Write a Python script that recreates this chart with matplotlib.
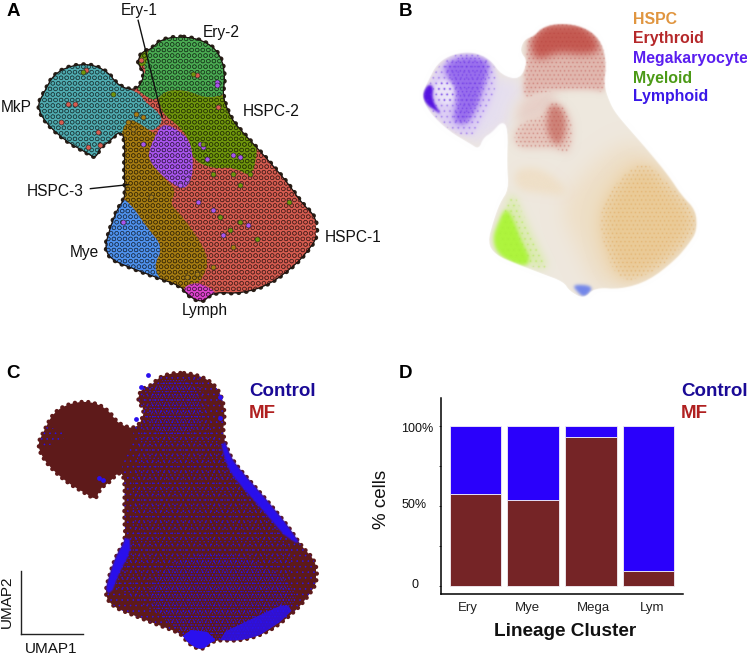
import matplotlib
matplotlib.use("Agg")
import numpy as np
import matplotlib.pyplot as plt
from matplotlib.patches import Polygon, PathPatch
from matplotlib.path import Path
from matplotlib.colors import to_rgb

plt.rcParams['font.family'] = ['Liberation Sans', 'DejaVu Sans']
plt.rcParams['hatch.linewidth'] = 0.4

W, H = 747, 662

# ---------- UMAP region outlines ----------
outline = [(530,108),(590,114),(640,138),(668,180),(675,235),(668,285),(685,335),(705,370),(755,425),(805,480),
           (865,550),(905,608),(948,650),(952,710),(925,750),(885,795),(805,855),(720,880),(640,875),(607,908),
           (563,885),(545,858),(480,835),(400,805),(338,780),(314,745),(332,680),(352,628),(378,590),(373,520),
           (376,412),(358,392),(328,425),(302,440),(288,474),(262,458),(198,422),(138,368),(112,318),(132,278),
           (162,222),(213,196),(272,191),(323,213),(357,258),(412,272),(437,218),(412,190),(425,155),(455,146),(480,120)]
mkp = [(90,318),(150,180),(270,170),(340,210),(357,258),(415,275),(440,310),(475,335),(490,365),
       (455,395),(420,370),(385,355),(378,410),(355,395),(325,425),(300,440),(285,490),(265,480),(180,440),(110,380)]
ery2 = [(530,90),(610,90),(690,180),(690,280),(620,295),(560,270),(500,270),(470,300),(440,290),
        (405,260),(440,215),(430,190),(455,130),(480,100)]
hspc2 = [(500,270),(560,270),(620,295),(690,280),(700,335),(720,370),(770,425),(770,470),(755,530),(700,500),(640,505),
         (580,480),(570,420),(540,380),(490,340),(480,310),(470,300)]
megap = [(490,370),(530,385),(570,420),(580,480),(575,540),(550,570),(490,530),(445,480),(450,440),(470,400)]
hspc3 = [(360,410),(385,355),(420,370),(455,395),(470,400),(450,440),(445,480),(490,530),(530,570),(510,610),(540,640),
         (600,720),(630,790),(590,860),(550,870),(480,850),(460,800),(490,740),(440,680),(400,620),(365,590),(360,520)]
mye = [(365,590),(400,620),(440,680),(490,740),(460,800),(490,850),(400,830),(320,800),(295,745),(320,680),(340,620)]
lymph = [(550,860),(590,845),(635,865),(650,885),(605,925),(555,895)]
ery1 = [(405,185),(430,150),(445,150),(440,190),(425,200)]

a_regions = [(mkp,'#4fabb0'),(ery2,'#4aab52'),(hspc2,'#6f960c'),(megap,'#a955ee'),(hspc3,'#a67c12'),
             (mye,'#4f92ee'),(lymph,'#dc42cc'),(ery1,'#6f960c')]
hspc1_colour = '#d65c50'

red_x = [258,205,225,185,295,300,265,590,425,655]
red_y = [210,310,310,365,395,435,440,225,180,320]
purple_x = [650,650,745,670,640,595,620,700,720,540,560,430,370,600,610]
purple_y = [245,255,675,705,630,605,475,465,470,555,535,430,665,430,440]
olive_x = [868,720,770,690,720,340,250,580,640,700,750,610,660]
olive_y = [605,555,715,690,665,280,215,220,520,520,520,430,650]
brown_x = [410,385,400,430,455,560,590,640,700]
brown_y = [340,365,385,350,590,830,820,800,740]

# panel B layers: polygon, colour
b_lilac = [(260,290),(350,260),(415,275),(420,320),(380,340),(378,410),(320,430),(285,470),(240,440),(270,380)]
b_orange_lt = [(530,640),(620,530),(730,450),(800,470),(860,540),(905,605),(950,650),(955,710),(925,750),(885,795),(805,855),
               (720,880),(640,875),(590,760)]
b_orange = [(650,650),(730,540),(800,510),(860,570),(945,655),(950,705),(880,785),(800,840),(720,860),(670,770)]
b_hspc3_tint = [(395,530),(470,525),(540,570),(560,610),(470,600),(400,590)]
b_red_top = [(530,100),(590,105),(645,135),(675,185),(680,240),(670,310),(640,300),(540,300),(470,310),(420,330),(430,215),(440,140),(480,115)]
b_red_dark = [(530,100),(590,108),(640,140),(660,190),(600,200),(530,190),(460,220),(440,160),(480,120)]
b_red_low = [(505,335),(545,345),(575,400),(565,490),(520,470),(470,470),(400,470),(395,420),(430,390),(480,380)]
b_red_core = [(505,340),(545,355),(555,420),(530,470),(495,430),(495,380)]
b_red_mid = [(420,320),(500,300),(530,310),(500,370),(440,390),(395,400)]
b_purple_lt = [(170,225),(215,195),(270,190),(325,215),(345,255),(330,330),(290,400),(265,440),(200,420),(140,365),(115,318),(135,280)]
b_purple = [(180,230),(225,205),(290,205),(325,225),(305,290),(280,360),(250,405),(205,395),(225,320),(190,260)]
b_white = [(175,270),(215,285),(205,350),(165,335),(150,290)]
b_purple_dark = [(115,318),(132,285),(150,290),(145,330),(175,375),(155,360),(130,345)]
b_green_lt = [(345,720),(370,640),(390,590),(430,680),(470,760),(505,825),(430,810),(370,790)]
b_green = [(330,730),(345,690),(370,640),(395,680),(420,745),(445,790),(430,815),(375,798),(340,770)]
b_blue = [(570,865),(640,870),(610,905),(590,890)]

# panel C layers
c_body = [(425,130),(530,90),(660,130),(690,330),(960,650),(960,720),(800,870),(610,920),(300,790),(370,590),(360,400),(405,270)]
c_mid = [(430,150),(600,120),(640,280),(760,460),(880,620),(860,770),(720,870),(560,860),(340,720),(395,590),(400,420),(420,290)]
c_bottom = [(420,760),(520,640),(700,620),(860,700),(905,770),(720,885),(610,905)]
c_top = [(450,125),(590,125),(610,280),(450,300)]
c_left = [(115,300),(140,265),(200,275),(190,300),(130,325)]
c_edge_band = [(660,300),(720,330),(790,400),(925,590),(875,600),(780,495),(710,420),(680,375)]
c_edge_lymph = [(550,845),(645,855),(645,930),(535,930)]
c_edge_left = [(310,720),(345,610),(390,575),(392,625),(360,680),(332,750)]
c_edge_bot = [(640,868),(790,800),(860,770),(880,800),(720,900)]
c_blue_x = [297,310,410,660,660,445,425]
c_blue_y = [410,418,242,180,240,115,150]

# panel D
categories = ['Ery', 'Mye', 'Mega', 'Lym']
mf_pct = [57.5, 53.8, 93.3, 9.2]
control_pct = [42.5, 46.2, 6.7, 90.8]
tick_label_x = [-0.136, 0.893, 2.043, 3.06]
minor_y = [0, 25, 50, 75, 100]

b_legend = [('HSPC','#e0953f'),('Erythroid','#b5282a'),('Megakaryocyte','#5a1ef0'),('Myeloid','#4c9a16'),('Lymphoid','#3a18e8')]

# ---------------------------------------------------------------
fig = plt.figure(figsize=(W/100, H/100), dpi=100, facecolor='white')

def T(x, y, s, **kw):
    kw.setdefault('ha', 'center'); kw.setdefault('va', 'center'); kw.setdefault('color', '#111111')
    fig.text(x/W, 1-y/H, s, **kw)

def umap_ax(x0, x1, y0, y1):
    ax = fig.add_axes([x0/W, 1-y1/H, (x1-x0)/W, (y1-y0)/H])
    ax.set_xlim(115, 948); ax.set_ylim(905, 110); ax.axis('off')
    return ax

def chaikin(pts, n=2):
    a = np.array(pts, float)
    for _ in range(n):
        b = np.roll(a, -1, axis=0)
        a = np.stack([0.75*a+0.25*b, 0.25*a+0.75*b], axis=1).reshape(-1, 2)
    return a

def blur(sigma):
    r = int(3*sigma)+1
    k = np.exp(-0.5*(np.arange(-r, r+1)/sigma)**2); k /= k.sum()
    def conv(m):
        m = np.apply_along_axis(lambda v: np.convolve(v, k, mode='same'), 0, m)
        return np.apply_along_axis(lambda v: np.convolve(v, k, mode='same'), 1, m)
    def f(im, dpi):
        im = np.pad(im, ((r, r), (r, r), (0, 0)))
        a = conv(im[..., 3])
        out = np.zeros_like(im)
        for c in range(3):
            out[..., c] = conv(im[..., c]*im[..., 3])/np.maximum(a, 1e-4)
        out[..., 3] = a
        return np.clip(out, 0, 1), -r, -r
    return f

def poly(ax, pts, fc, hatch=None, ec='none', lw=0, z=2, clip=None, sigma=None, smooth=0, alpha=None):
    v = chaikin(pts, smooth) if smooth else pts
    p = Polygon(v, closed=True, facecolor=fc, edgecolor=ec, hatch=hatch, linewidth=lw, zorder=z, alpha=alpha)
    ax.add_patch(p)
    if clip is not None:
        p.set_clip_path(clip)
    if sigma:
        p.set_agg_filter(blur(sigma))
    return p

def dark(c, f=0.45):
    return tuple(x*f for x in to_rgb(c))

smooth_out = chaikin(outline, 2)
ox, oy = np.append(smooth_out[:, 0], smooth_out[0, 0]), np.append(smooth_out[:, 1], smooth_out[0, 1])

# ---- A ----
axA = umap_ax(38, 316, 37, 302)
axA.plot(ox, oy, color='#2a2018', lw=3.6, ls=(0, (0.01, 1.5)), dash_capstyle='round', zorder=1, clip_on=False)
clipA = poly(axA, smooth_out, hspc1_colour, hatch='OOO', ec=dark(hspc1_colour), z=2)
for i, (pts, c) in enumerate(a_regions):
    poly(axA, pts, c, hatch='OOO', ec=dark(c), z=3+i*0.01, clip=clipA, smooth=2)
axA.plot(ox, oy, color='#1c1410', lw=0.9, zorder=4)
axA.scatter(red_x, red_y, s=13, c=hspc1_colour, edgecolors='#222', linewidths=0.4, zorder=5)
axA.scatter(purple_x, purple_y, s=13, c='#a955ee', edgecolors='#222', linewidths=0.4, zorder=5)
axA.scatter(olive_x, olive_y, s=13, c='#6f960c', edgecolors='#222', linewidths=0.4, zorder=5)
axA.scatter(brown_x, brown_y, s=13, c='#a67c12', edgecolors='#222', linewidths=0.4, zorder=5)
axA.plot([415,487],[60,350], color='#111', lw=1.0, zorder=6, clip_on=False)
axA.plot([272,385],[565,553], color='#111', lw=1.0, zorder=6, clip_on=False)

# ---- B ----
axB = umap_ax(422, 696, 24, 298)
poly(axB, smooth_out, '#eee8de', z=1)
soft = [(b_lilac,'#e6dff0',7),(b_orange_lt,'#efdfc6',10),(b_orange,'#ebcb98',8),(b_hspc3_tint,'#f0e0c8',4),
        (b_red_top,'#e2b8b0',3),(b_red_dark,'#c65a52',4),(b_red_mid,'#e8d0c8',5),(b_red_low,'#e6c6bc',4),
        (b_red_core,'#cf8278',3),(b_purple_lt,'#dccdf6',3),(b_purple,'#9a70ee',3),(b_white,'#ece4fa',2),
        (b_purple_dark,'#5512e0',1.2),(b_green_lt,'#dcecb0',4),(b_green,'#aef53e',2),(b_blue,'#7387ea',1.5)]
for i, (pts, c, s) in enumerate(soft):
    poly(axB, pts, c, z=2+i*0.01, sigma=s, smooth=2)
speck = [(b_orange,'#d9963f',4),(b_red_top,'#b33a36',4),(b_red_low,'#b5403a',4),(b_purple,'#4f0fe0',4),(b_purple_lt,'#6a35e8',3),
         (b_white,'#5a1ee6',3),(b_green_lt,'#a6e83a',3)]
for i, (pts, c, d) in enumerate(speck):
    poly(axB, pts, 'none', hatch='.'*d, ec=c, z=2.5+i*0.01, sigma=0.6, smooth=2, alpha=0.55)
# white surround hides blur spilling past the cell cloud's edge
surround = Path(np.vstack([[(-100,-100),(1200,-100),(1200,1100),(-100,1100),(-100,-100)], np.vstack([smooth_out, smooth_out[:1]])[::-1]]),
                [Path.MOVETO]+[Path.LINETO]*3+[Path.CLOSEPOLY]+[Path.MOVETO]+[Path.LINETO]*(len(smooth_out)-1)+[Path.CLOSEPOLY])
m = PathPatch(surround, facecolor='white', edgecolor='none', zorder=3, clip_on=False)
axB.add_patch(m); m.set_agg_filter(blur(0.8))
for k, (name, c) in enumerate(b_legend):
    T(633, [20,39,59,78,97][k], name, ha='left', color=c, fontsize=11.4, fontweight='bold')

# ---- C ----
axC = umap_ax(38, 316, 373, 650)
axC.plot(ox, oy, color='#5e1a1a', lw=3.2, ls=(0, (0.01, 1.5)), dash_capstyle='round', zorder=1, clip_on=False)
clipC = poly(axC, smooth_out, '#5e1a1a', z=1.2)
BLUE = '#2a10ee'
poly(axC, c_body, 'none', hatch='...', ec=BLUE, z=2, clip=clipC)
poly(axC, c_mid, 'none', hatch='....', ec=BLUE, z=2.05, clip=clipC, alpha=0.85)
poly(axC, c_bottom, 'none', hatch='......', ec=BLUE, z=2.1, clip=clipC, smooth=2)
poly(axC, c_top, 'none', hatch='......', ec=BLUE, z=2.1, clip=clipC, smooth=2)
poly(axC, c_left, 'none', hatch='...', ec=BLUE, z=2.1, clip=clipC)
poly(axC, c_edge_band, BLUE, z=2.2, clip=clipC, smooth=1, sigma=0.8)
poly(axC, c_edge_lymph, BLUE, z=2.2, clip=clipC, smooth=1)
poly(axC, c_edge_left, BLUE, z=2.2, clip=clipC, smooth=1, sigma=0.8)
poly(axC, c_edge_bot, BLUE, z=2.2, clip=clipC, smooth=1, alpha=0.85)
axC.scatter(c_blue_x, c_blue_y, s=12, c=BLUE, linewidths=0, zorder=4, clip_on=False)
T(249, 392, 'Control', ha='left', color='#1a0a96', fontsize=13.5, fontweight='bold')
T(249, 414, 'MF', ha='left', color='#b02020', fontsize=13.5, fontweight='bold')
fig.add_artist(plt.Line2D([21/W,21/W],[1-571/H,1-634/H], color='#222', lw=1))
fig.add_artist(plt.Line2D([21/W,83/W],[1-634/H,1-634/H], color='#222', lw=1))
T(7, 602, 'UMAP2', rotation=90, fontsize=11)
T(51, 649, 'UMAP1', fontsize=11)

# ---- D ----
axD = fig.add_axes([441/W, 1-594/H, (683-441)/W, (594-398)/H])
axD.set_xlim(-0.598, 3.598); axD.set_ylim(-5, 117.5)
xs = list(range(len(categories)))
axD.bar(xs, mf_pct, width=0.896, color='#752426', edgecolor='#f3eef5', linewidth=0.6)
axD.bar(xs, control_pct, bottom=mf_pct, width=0.896, color='#2a00fb', edgecolor='#f3eef5', linewidth=0.6)
axD.spines['top'].set_visible(False); axD.spines['right'].set_visible(False)
axD.spines['left'].set_linewidth(1.1); axD.spines['bottom'].set_linewidth(1.1)
axD.set_yticks(minor_y); axD.set_yticklabels([]); axD.tick_params(axis='y', length=1.5, width=0.5)
axD.set_xticks(tick_label_x); axD.set_xticklabels(categories, fontsize=9.5, color='#222')
axD.tick_params(axis='x', length=0, pad=6)
T(433, 429, '100%', ha='right', fontsize=9)
T(427, 505, '50%', ha='right', fontsize=9)
T(419, 585, '0', ha='right', fontsize=9)
T(382, 499, '% cells', rotation=90, fontsize=13.5)
T(565, 632, 'Lineage Cluster', fontsize=13.7, fontweight='bold')
T(681, 392, 'Control', ha='left', color='#1a0a96', fontsize=13.5, fontweight='bold')
T(681, 414, 'MF', ha='left', color='#b02020', fontsize=13.5, fontweight='bold')

# ---- labels on A, panel letters ----
for x, y, s in [(139,11,'Ery-1'),(221,32,'Ery-2'),(271,112,'HSPC-2'),(16,107,'MkP'),(55,191,'HSPC-3'),
                (84,253,'Mye'),(353,238,'HSPC-1'),(205,311,'Lymph')]:
    T(x, y, s, fontsize=11.2)
for x, y, s in [(13,12,'A'),(405,11,'B'),(13,373,'C'),(405,374,'D')]:
    T(x, y, s, fontsize=13.5, fontweight='bold', color='black')

fig.savefig('out.png', dpi=100)
